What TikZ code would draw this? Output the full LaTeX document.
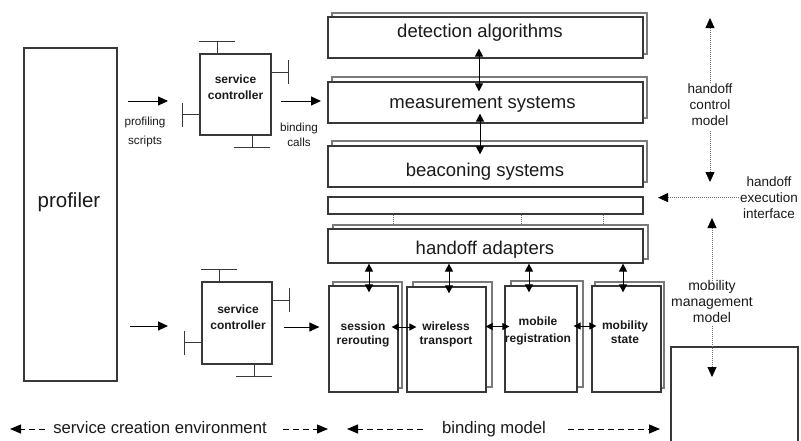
\documentclass[tikz,border=0pt]{standalone}
\usepackage{fontspec}
\setmainfont{Liberation Sans}
\usetikzlibrary{arrows.meta,calc,shadows}
\definecolor{boxc}{HTML}{383838}
\definecolor{shadc}{HTML}{7A7A7A}
\definecolor{dotc}{HTML}{707070}
\definecolor{txt}{HTML}{1A1A1A}
\newcommand\ctrlbars[1]{%
  \draw[tb] ($(#1.north west)+(18,0)$) -- ++(0,-12) ($(#1.north west)+(0,-12)$) -- ++(36,0);
  \draw[tb] ($(#1.north east)+(0,19)$) -- ++(17,0) ($(#1.north east)+(17,7)$) -- ++(0,24);
  \draw[tb] ($(#1.north west)+(0,61)$) -- ++(-17,0) ($(#1.north west)+(-17,50)$) -- ++(0,24);
  \draw[tb] ($(#1.south west)+(53,0)$) -- ++(0,12) ($(#1.south west)+(35,12)$) -- ++(36,0);
}
\begin{document}
\begin{tikzpicture}[x=1pt,y=-1pt,
  box/.style={draw=boxc,line width=1.2pt,fill=white,inner sep=0pt},
  sh/.style 2 args={general shadow={shadow xshift=#1,shadow yshift=#2,draw=shadc,fill=white,line width=1.2pt}},
  big/.style={font=\fontsize{18.5}{22}\selectfont,text=txt,inner sep=0pt},
  bl/.style={font=\fontsize{12}{14}\selectfont\bfseries,text=txt,align=center,inner sep=0pt},
  sm/.style={text=txt,align=center,inner sep=0pt},
  md/.style={text=txt,align=center,inner sep=5pt},
  lg/.style={font=\fontsize{16.7}{20}\selectfont,text=txt,inner sep=0pt},
  tb/.style={line width=1.1pt,draw=boxc},
  arr/.style={line width=1pt,-{Triangle[length=10pt,width=9pt]}},
  dbl/.style={line width=1pt,{Triangle[length=8pt,width=8pt]}-{Triangle[length=8pt,width=8pt]}},
  sdbl/.style={line width=1pt,{Triangle[length=7pt,width=7pt]}-{Triangle[length=7pt,width=7pt]}},
  dotl/.style={draw=dotc,line width=0.8pt,dash pattern=on 0.8pt off 1.2pt},
  dotarr/.style={dotl,-{Triangle[length=10pt,width=9pt,color=black]}},
  dasharr/.style={line width=1pt,dash pattern=on 6pt off 4pt,-{Triangle[length=11pt,width=9pt]}}
]
\fill[white] (0,0) rectangle (801,440);
\useasboundingbox (0,0) rectangle (801,440);

% profiler
\node[box,minimum width=93pt,minimum height=333pt] (prof) at (70.5,214.5) {};
\node[font=\fontsize{20.5}{24}\selectfont,text=txt,anchor=base,inner sep=0pt] (proft) at (69,207) {profiler};

% service controllers
\node[box,minimum width=71pt,minimum height=81pt] (sc1) at (235.5,94.5) {};
\node[bl,font=\fontsize{12}{16}\selectfont\bfseries] (sc1t) at (235.5,87.6) {service\\controller};
\ctrlbars{sc1}
\node[box,minimum width=70pt,minimum height=82pt] (sc2) at (237,323) {};
\node[bl,font=\fontsize{12}{16.5}\selectfont\bfseries] (sc2t) at (238,317) {service\\controller};
\ctrlbars{sc2}

% profiling / binding labels
\node[sm,font=\fontsize{11.7}{18.5}\selectfont] (ps) at (145,131.8) {profiling\\scripts};
\node[sm,font=\fontsize{11.7}{15}\selectfont] (bc) at (299,135) {binding\\calls};

% big stacked boxes
\node[box,sh={4pt}{4pt},minimum width=315pt,minimum height=41pt] (det) at (485.5,37.5) {};
\node[big,anchor=base] (dett) at (480,37.7) {detection algorithms};
\node[box,sh={4pt}{5pt},minimum width=315pt,minimum height=41pt] (meas) at (485.5,102.5) {};
\node[big,anchor=base] (meast) at (482.5,108.3) {measurement systems};
\node[box,sh={4pt}{5pt},minimum width=315pt,minimum height=41pt] (beac) at (485.5,166.5) {};
\node[big,anchor=base] (beact) at (485,176) {beaconing systems};
\node[box,minimum width=315pt,minimum height=17pt] (thin) at (485.5,205.5) {};
\node[box,sh={5pt}{4pt},minimum width=315pt,minimum height=34pt] (adapt) at (485.5,246) {};
\node[big,anchor=base] (adaptt) at (485,254.3) {handoff adapters};

\coordinate (d1) at (393,0);
\coordinate (d2) at (521,0);
\coordinate (d3) at (603,0);
\draw[dotl] (thin.south -| d1) -- ([yshift=3pt]adapt.north -| d1);
\draw[dotl] (thin.south -| d2) -- ([yshift=3pt]adapt.north -| d2);
\draw[dotl] (thin.south -| d3) -- ([yshift=3pt]adapt.north -| d3);

\draw[dbl] ($(det.south)+(-6.5,-10)$) -- ($(meas.north)+(-6.5,10)$);
\draw[dbl] ($(meas.south)+(-5.5,-10)$) -- ($(beac.north)+(-5.5,9)$);

% bottom mechanism boxes
\node[box,sh={4pt}{4pt},minimum width=69pt,minimum height=106pt] (sess) at (363.5,339) {};
\node[bl,font=\fontsize{12}{14}\selectfont\bfseries] (sesst) at (363,334.3) {session\\rerouting};
\node[box,sh={6pt}{5pt},minimum width=79pt,minimum height=105pt] (wire) at (446.5,339.5) {};
\node[bl,font=\fontsize{12}{14}\selectfont\bfseries] (wiret) at (446,334.3) {wireless\\transport};
\node[box,sh={6pt}{5pt},minimum width=72pt,minimum height=106pt] (mreg) at (541,339) {};
\node[bl,font=\fontsize{12}{17}\selectfont\bfseries] (mregt) at (538,331.3) {mobile\\registration};
\node[box,sh={3pt}{4pt},minimum width=69pt,minimum height=106pt] (mst) at (626.5,339) {};
\node[bl,font=\fontsize{12}{14}\selectfont\bfseries] (mstt) at (625,332) {mobility\\state};

\draw[dbl] ([xshift=5.5pt]sess.north |- adapt.south) -- ([xshift=5.5pt,yshift=-7pt]sess.north);
\draw[dbl] ([xshift=2.5pt]wire.north |- adapt.south) -- ([xshift=2.5pt,yshift=-7pt]wire.north);
\draw[dbl] ([xshift=-12pt]mreg.north |- adapt.south) -- ([xshift=-12pt,yshift=-7pt]mreg.north);
\draw[dbl] ([xshift=-3.5pt]mst.north |- adapt.south) -- ([xshift=-3.5pt,yshift=-7pt]mst.north);

\draw[sdbl] ([xshift=-7pt,yshift=12pt]sess.east) -- ([xshift=10pt,yshift=12pt]sess.east -| wire.west);
\draw[sdbl] ([xshift=-1pt,yshift=13pt]wire.east) -- ([xshift=5pt,yshift=13pt]wire.east -| mreg.west);
\draw[sdbl] ([xshift=-4pt,yshift=13pt]mreg.east) -- ([xshift=5pt,yshift=13pt]mreg.east -| mst.west);

% right box
\node[box,minimum width=127pt,minimum height=113pt] (rbox) at (734.5,403.5) {};

% flow arrows
\coordinate (pa1) at (128,101);
\coordinate (pa2) at (168,101);
\draw[arr] (pa1) -- (pa2);
\coordinate (ba1) at (281,101);
\coordinate (ba2) at (321,101);
\draw[arr] (ba1) -- (ba2);
\coordinate (pb1) at (130,326);
\coordinate (pb2) at (168,326);
\draw[arr] (pb1) -- (pb2);
\draw[arr] ([xshift=11pt,yshift=-4pt]sc2.east) -- ([xshift=-9pt,yshift=12pt]sess.west);

% right-side models
\node[md,font=\fontsize{13.5}{16}\selectfont] (hcm) at (710,105) {handoff\\control\\model};
\coordinate (hcmT) at (710,18);
\coordinate (hcmB) at (710,182);
\draw[dotarr] ([yshift=-4pt]hcm.north) -- (hcmT);
\draw[dotarr] (hcm.south) -- (hcmB);

\node[md,font=\fontsize{13.5}{16}\selectfont] (hei) at (769,197.6) {handoff\\execution\\interface};
\coordinate (heiT) at (658,197.6);
\draw[dotarr] ([xshift=4pt]hei.west) -- (heiT);

\node[md,font=\fontsize{14}{16.3}\selectfont,inner sep=3pt] (mmm) at (712,301.3) {mobility\\management\\model};
\coordinate (mmmT) at (712,218);
\coordinate (mmmB) at (712,377);
\draw[dotarr] ([yshift=-6pt]mmm.north) -- (mmmT);
\draw[dotarr] (mmm.south) -- (mmmB);

% bottom legend
\node[lg,anchor=base] (sce) at (160,433) {service creation environment};
\node[lg,anchor=base] (bm) at (494,433) {binding model};
\coordinate (l1a) at (45,429);
\coordinate (l1b) at (10,429);
\coordinate (l2a) at (283,429);
\coordinate (l2b) at (328,429);
\coordinate (l3a) at (423,429);
\coordinate (l3b) at (347,429);
\coordinate (l4a) at (568,429);
\coordinate (l4b) at (660,429);
\draw[dasharr] (l1a) -- (l1b);
\draw[dasharr] (l2a) -- (l2b);
\draw[dasharr] (l3a) -- (l3b);
\draw[dasharr] (l4a) -- (l4b);
\end{tikzpicture}
\end{document}
